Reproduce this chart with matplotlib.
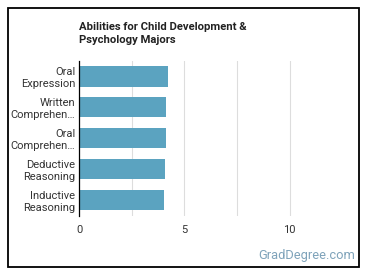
import matplotlib
matplotlib.use("Agg")
import matplotlib.pyplot as plt
from matplotlib.patches import Rectangle

plt.rcParams['font.family'] = ['Roboto', 'DejaVu Sans']

categories = ["Oral\nExpression", "Written\nComprehen…", "Oral\nComprehen…",
              "Deductive\nReasoning", "Inductive\nReasoning"]
values = [4.20, 4.11, 4.11, 4.06, 4.01]
xticks = [0, 5, 10]
title = "Abilities for Child Development &\nPsychology Majors"

W, H = 370, 278
fig = plt.figure(figsize=(W / 100, H / 100), dpi=100)
fig.patch.set_facecolor("white")

# outer border
fig.patches.append(Rectangle((8 / W, 1 - 267 / H), 351 / W, 259 / H,
                             transform=fig.transFigure, fill=False,
                             edgecolor="black", linewidth=1.3))

left, right = 79.3 / W, 341 / W
bottom, top = 1 - 215.7 / H, 1 - 61 / H
ax = fig.add_axes([left, bottom, right - left, top - bottom])

ypos = list(range(len(categories)))
ax.barh(ypos, values, height=0.65, color="#5ba3c0")
ax.set_ylim(len(categories) - 0.5, -0.5)
ax.set_xlim(0, 12.45)
ax.set_yticks(ypos)
ax.set_yticklabels(categories, fontsize=8.0, color="#333333", linespacing=1.25)
ax.set_xticks([0, 2.5, 5, 7.5, 10])
ax.set_xticklabels(["0", "", "5", "", "10"], fontsize=8.0, color="#333333")
ax.tick_params(length=0, pad=3)
ax.tick_params(axis="x", pad=7)
ax.grid(axis="x", color="#dddddd", linewidth=0.8)
ax.set_axisbelow(True)
for s in ["top", "right", "bottom"]:
    ax.spines[s].set_visible(False)
ax.spines["left"].set_color("black")
ax.spines["left"].set_linewidth(0.9)

fig.text(79 / W, 1 - 22 / H, title, fontsize=8.1, fontweight="bold",
         color="#222222", ha="left", va="top", linespacing=1.35)
fig.text(355 / W, 1 - 256 / H, "GradDegree.com", fontsize=9.3,
         color="#7fa3ba", ha="right", va="center")

fig.savefig("out.png", dpi=100)
